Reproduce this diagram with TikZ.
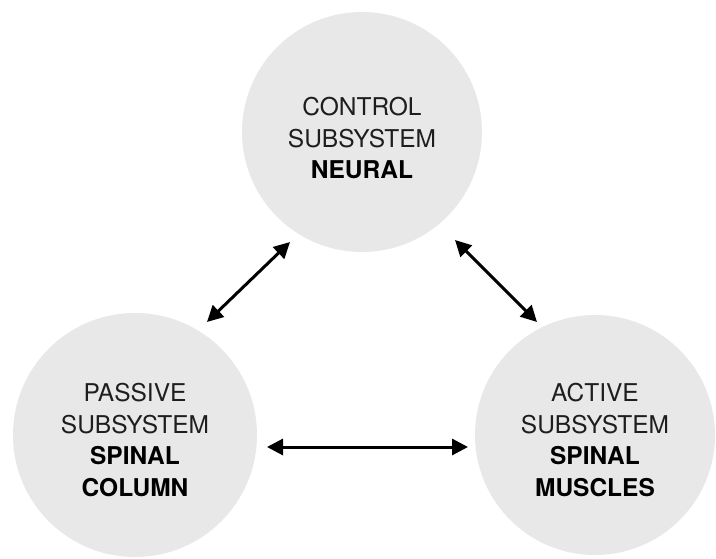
\documentclass[tikz,border=0pt]{standalone}
\usepackage{fontspec}
\setmainfont{TeX Gyre Heros}
\usetikzlibrary{arrows.meta,calc}
\definecolor{discfill}{HTML}{E8E8E8}
\definecolor{textgray}{HTML}{1E1E1E}
\tikzset{
  disc/.style={circle, fill=discfill, draw=none, minimum size=#1, inner sep=0pt},
  lbl/.style={align=center, text=textgray, inner sep=0pt,
    font=\fontsize{24.5}{31.5}\selectfont},
  link/.style={line width=3pt, black,
    {Triangle[length=16pt,width=16pt]}-{Triangle[length=16pt,width=16pt]}}
}
\newcommand{\bl}[1]{{\bfseries\color{black}#1}}
\begin{document}
\begin{tikzpicture}[x=1pt,y=-1pt]
  \useasboundingbox[fill=white] (0,0) rectangle (716,559);
  \node[disc=240pt] (top) at (362,132) {};
  \node[disc=244pt] (left) at (135,435) {};
  \node[disc=240pt] (right) at (595,435) {};
  \node[lbl] (toptext) at ($(top.center)+(0,6)$) {CONTROL\\SUBSYSTEM\\\bl{NEURAL}};
  \node[lbl] (lefttext) at ($(left.center)+(0,5)$) {PASSIVE\\SUBSYSTEM\\\bl{SPINAL}\\\bl{COLUMN}};
  \node[lbl] (righttext) at ($(right.center)+(0,5)$) {ACTIVE\\SUBSYSTEM\\\bl{SPINAL}\\\bl{MUSCLES}};
  \draw[link] ($(top.center)+(-72,110)$) -- ($(left.center)+(72,-113)$);
  \draw[link] ($(top.center)+(93,108)$) -- ($(right.center)+(-58,-113)$);
  \draw[link] ($(left.center)+(132,12)$) -- ($(right.center)+(-127,12)$);
\end{tikzpicture}
\end{document}
